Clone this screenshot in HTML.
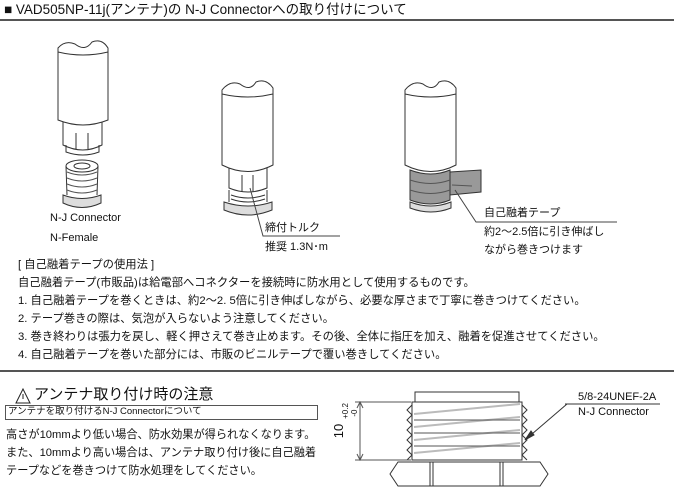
<!DOCTYPE html>
<html><head><meta charset="utf-8"><style>
body{margin:0;width:674px;height:487px;background:#fff;overflow:hidden;position:relative;font-family:"Liberation Sans","Noto Sans CJK JP",sans-serif;color:#111}
.t{position:absolute;white-space:nowrap;font-size:11.3px;line-height:14px}
</style></head><body>
<div class="t" style="left:4px;top:2px;font-size:13.5px;line-height:16px">■ VAD505NP-11j(アンテナ)の N-J Connectorへの取り付けについて</div>
<div style="position:absolute;left:0;top:19px;width:674px;height:2px;background:#555"></div>

<svg width="674" height="487" style="position:absolute;left:0;top:0" fill="none" stroke="#333" stroke-width="1">
<path d="M58,48 Q65,40 75,44 Q85,52 92,42 Q102,38 108,48 L108,120 Q83,130 58,120 Z" fill="#fff"/>
<path d="M58,52 Q83,58 108,52"/>
<path d="M63,122 L63,145 Q83,155 102,145 L102,122"/>
<path d="M66,145 L66,152 Q83,158 99,152 L99,145"/>
<line x1="76" y1="133" x2="76" y2="149"/><line x1="88" y1="133" x2="88" y2="149"/>
<ellipse cx="82" cy="166" rx="16" ry="6"/><ellipse cx="82" cy="166" rx="8" ry="3"/>
<path d="M66,166 L67,195 M98,166 L97,195"/>
<path d="M67,172 Q82,178 97,172 M67,178 Q82,184 97,178 M67,184 Q82,190 97,184 M67,190 Q82,196 97,190" stroke="#555"/>
<path d="M63,195 L63,203 Q82,212 101,203 L101,195 Q82,202 63,195 Z" fill="#ddd"/>
<path d="M222,90 Q230,80 240,84 Q250,92 256,82 Q266,78 273,88 L273,165 Q248,178 222,165 Z" fill="#fff"/>
<path d="M222,94 Q248,100 273,94"/>
<path d="M229,168 L229,188 Q248,196 267,188 L267,168"/>
<line x1="242" y1="175" x2="242" y2="192"/><line x1="253" y1="175" x2="253" y2="192"/>
<path d="M229,190 L229,202 M267,190 L267,202 M231,195 Q248,201 265,195 M231,199 Q248,205 265,199"/>
<path d="M224,202 L224,210 Q248,220 272,210 L272,202 Q248,210 224,202 Z" fill="#ddd"/>
<polyline points="250,188 263,236 340,236" stroke="#444"/>
<path d="M405,90 Q413,80 423,84 Q433,92 439,82 Q449,78 456,88 L456,165 Q431,178 405,165 Z" fill="#fff"/>
<path d="M405,94 Q431,100 456,94"/>
<path d="M410,170 L410,200 Q431,208 450,200 L450,170 Q431,178 410,170 Z" fill="#999"/>
<path d="M450,172 L481,170 L481,192 L450,195 Z" fill="#999"/>
<path d="M410,180 Q431,187 450,180 M410,190 Q431,197 450,190 M452,185 L472,186" stroke="#555"/>
<path d="M410,202 L410,208 Q431,216 451,208 L451,202 Q431,210 410,202 Z" fill="#ddd"/>
<polyline points="455,190 476,222 617,222" stroke="#444"/>
<rect x="415" y="392" width="104" height="10" fill="#fff"/>
<path d="M412,402 L522,402 L522,460 L412,460 Z"/>
<path d="M412,405 l-5,5 l5,5 l-5,5 l5,5 l-5,5 l5,5 l-5,5 l5,5 l-5,5 l5,5 l-5,5 M522,405 l5,5 l-5,5 l5,5 l-5,5 l5,5 l-5,5 l5,5 l-5,5 l5,5 l-5,5 l5,5" />
<path d="M414,414 L520,404 M414,427 L520,417 M414,440 L520,430 M414,453 L520,443" stroke="#bbb" stroke-width="2"/>
<path d="M414,420 L520,420 M414,433 L520,433 M414,446 L520,446" stroke="#555"/>
<path d="M398,462 L540,462 L548,474 L540,486 L398,486 L390,474 Z"/>
<path d="M430,462 L430,486 M433,462 L433,486 M500,462 L500,486 M503,462 L503,486"/>
<path d="M355,402 L411,402 M355,460 L411,460 M360,402 L360,460" stroke="#555"/>
<path d="M357,408 L360,402 L363,408 M357,454 L360,460 L363,454" stroke="#555"/>
<line x1="567" y1="404" x2="525" y2="440"/><path d="M525,440 L531,431 L534,435 Z" fill="#333"/>
<line x1="565" y1="404" x2="660" y2="404"/>
<path d="M16,403 L23,389 L30,403 Z" stroke="#222"/><line x1="23" y1="394" x2="23" y2="399" stroke="#222"/>
</svg>

<div class="t" style="left:50px;top:211px;font-size:11px">N-J Connector</div>
<div class="t" style="left:50px;top:231px;font-size:11px">N-Female</div>
<div class="t" style="left:265px;top:221px;font-size:11px">締付トルク</div>
<div class="t" style="left:265px;top:240px;font-size:11px">推奨 1.3N･m</div>
<div class="t" style="left:484px;top:206px;font-size:11px">自己融着テープ</div>
<div class="t" style="left:484px;top:225px;font-size:11px">約2～2.5倍に引き伸ばし</div>
<div class="t" style="left:484px;top:243px;font-size:11px">ながら巻きつけます</div>

<div class="t" style="left:18px;top:258px">[ 自己融着テープの使用法 ]</div>
<div class="t" style="left:18px;top:276px">自己融着テープ(市販品)は給電部へコネクターを接続時に防水用として使用するものです。</div>
<div class="t" style="left:18px;top:294px">1. 自己融着テープを巻くときは、約2～2. 5倍に引き伸ばしながら、必要な厚さまで丁寧に巻きつけてください。</div>
<div class="t" style="left:18px;top:312px">2. テープ巻きの際は、気泡が入らないよう注意してください。</div>
<div class="t" style="left:18px;top:330px">3. 巻き終わりは張力を戻し、軽く押さえて巻き止めます。その後、全体に指圧を加え、融着を促進させてください。</div>
<div class="t" style="left:18px;top:348px">4. 自己融着テープを巻いた部分には、市販のビニルテープで覆い巻きしてください。</div>
<div style="position:absolute;left:0;top:370px;width:674px;height:2px;background:#555"></div>

<div class="t" style="left:34px;top:386px;font-size:15px;line-height:18px">アンテナ取り付け時の注意</div>
<div style="position:absolute;left:5px;top:405px;width:311px;height:13px;border:1px solid #555"></div>
<div class="t" style="left:8px;top:405px;font-size:9.5px;line-height:14px">アンテナを取り付けるN-J Connectorについて</div>
<div class="t" style="left:6px;top:428px;font-size:11.2px">高さが10mmより低い場合、防水効果が得られなくなります。</div>
<div class="t" style="left:6px;top:446px;font-size:11.2px">また、10mmより高い場合は、アンテナ取り付け後に自己融着</div>
<div class="t" style="left:6px;top:464px;font-size:11.2px">テープなどを巻きつけて防水処理をしてください。</div>
<div class="t" style="left:332px;top:424px;font-size:13px;transform:rotate(-90deg)">10</div>
<div class="t" style="left:342px;top:402px;font-size:8px;line-height:9px;transform:rotate(-90deg)">+0.2<br>&nbsp;-0</div>
<div class="t" style="left:578px;top:390px;font-size:11px">5/8-24UNEF-2A</div>
<div class="t" style="left:578px;top:405px;font-size:11px">N-J Connector</div>
</body></html>
